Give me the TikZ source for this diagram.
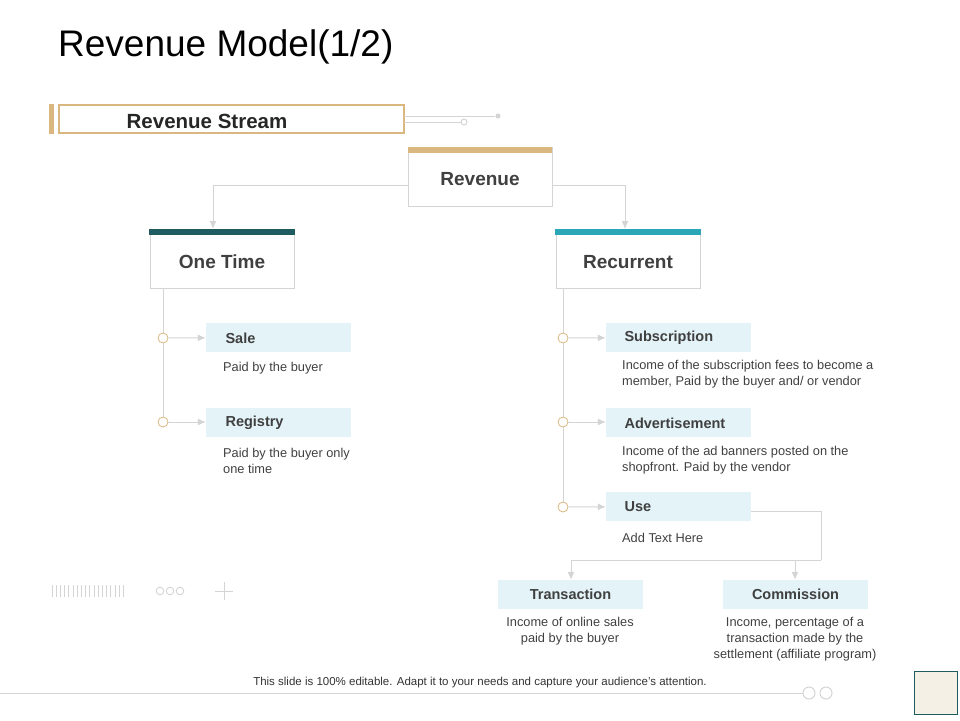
\documentclass[tikz,border=0pt]{standalone}
\usepackage{fontspec}
\setmainfont{Liberation Sans}
\usetikzlibrary{arrows.meta}
\definecolor{tan}{HTML}{D9B77E}
\definecolor{darkteal}{HTML}{1E5C60}
\definecolor{lightteal}{HTML}{2BA6B6}
\definecolor{paleblue}{HTML}{E3F3F7}
\definecolor{linegray}{HTML}{D4D4D4}
\definecolor{txt}{HTML}{404040}
\definecolor{cream}{HTML}{F5F0E6}
\tikzset{
  conn/.style={draw=linegray, line width=1pt},
  arr/.style={conn, -{Latex[length=8pt,width=7pt]}},
  headbox/.style={draw=linegray, fill=white, minimum width=144pt, minimum height=59pt, text depth=0pt, font=\fontsize{19}{22}\selectfont\bfseries, text=txt},
  itembox/.style={fill=paleblue, minimum width=145pt, minimum height=29pt, font=\fontsize{14.5}{17}\selectfont\bfseries, text=txt},
  itemtext/.style={anchor=west, font=\fontsize{14.5}{17}\selectfont\bfseries, text=txt},
  desc/.style={font=\fontsize{12.8}{16}\selectfont, text=txt, align=left, anchor=north west, inner sep=0pt},
  cdesc/.style={font=\fontsize{12.8}{16}\selectfont, text=txt, align=center, anchor=north, inner sep=0pt},
  knob/.style={circle, draw=tan, fill=white, line width=0.8pt, inner sep=0pt, minimum size=10pt}
}
\begin{document}
\begin{tikzpicture}[x=1pt, y=-1pt]

  \useasboundingbox (0,0) rectangle (960,720);

  % title
  \node[anchor=west, inner sep=0pt, font=\fontsize{37}{40}\selectfont, text=black] (title) at (58,47) {Revenue Model(1/2)};

  % revenue stream banner
  \fill[tan] (49,104) rectangle (54,134);
  \draw[tan, line width=1.5pt] (59,105) rectangle (404,133);
  \node[font=\fontsize{20.5}{23}\selectfont\bfseries, text=black!85] (stream) at (207,121) {Revenue Stream};
  \coordinate (s1) at (404,116);
  \coordinate (s2) at (404,122);
  \node[circle, fill=linegray, inner sep=0pt, minimum size=5pt] (dotA) at (498,116) {};
  \node[circle, draw=linegray, fill=white, line width=1pt, inner sep=0pt, minimum size=6pt] (dotB) at (464,122) {};
  \draw[conn] (s1) -- (dotA);
  \draw[conn] (s2) -- (dotB);

  % head boxes
  \node[headbox] (rev) at (480,176.5) {};
  \node[font=\fontsize{19}{22}\selectfont\bfseries, text=txt] at (480,179) {Revenue};
  \fill[tan] (408,147) rectangle (552,153);
  \node[headbox] (one) at (222,259) {};
  \node[font=\fontsize{19}{22}\selectfont\bfseries, text=txt] at (222,262) {One Time};
  \fill[darkteal] (149,229) rectangle (295,235);
  \node[headbox] (rec) at (628,259) {};
  \node[font=\fontsize{19}{22}\selectfont\bfseries, text=txt] at (628,262) {Recurrent};
  \fill[lightteal] (555,229) rectangle (701,235);

  \draw[arr] (rev.west |- 0,185) -| (213,229);
  \draw[arr] (rev.east |- 0,185) -| (625,229);

  % one time branch
  \node[knob] (k1) at (163,338) {};
  \node[knob] (k2) at (163,422) {};
  \draw[conn] (one.south -| 163,0) -- (k1) -- (k2);
  \node[itembox] (sale) at (278.5,337.5) {};
  \node[itemtext] at (222,338) {Sale};
  \node[itembox] (reg) at (278.5,422) {};
  \node[itemtext] at (222,423) {Registry};
  \draw[arr] (k1) -- (sale);
  \draw[arr] (k2) -- (reg);
  \node[desc] at (223,362) {Paid by the buyer};
  \node[desc] at (223,448) {Paid by the buyer only\\one time};

  % recurrent branch
  \node[knob] (k3) at (563,338) {};
  \node[knob] (k4) at (563,422) {};
  \node[knob] (k5) at (563,507) {};
  \draw[conn] (rec.south -| 563,0) -- (k3) -- (k4) -- (k5);
  \node[itembox] (sub) at (678.5,337.5) {};
  \node[itemtext] at (621,338) {Subscription};
  \node[itembox] (adv) at (678.5,422) {};
  \node[itemtext] at (621,423) {Advertisement};
  \node[itembox] (use) at (678.5,506.5) {};
  \node[itemtext] at (621,507) {Use};
  \draw[arr] (k3) -- (sub);
  \draw[arr] (k4) -- (adv);
  \draw[arr] (k5) -- (use);
  \node[desc] at (622,360) {Income of the subscription fees to become a\\member, Paid by the buyer and/ or vendor};
  \node[desc] at (622,446) {Income of the ad banners  posted on the\\shopfront.  Paid by the vendor};
  \node[desc] at (622,533) {Add Text Here};

  % use split
  \node[itembox] (trans) at (570.5,594.5) {Transaction};
  \node[itembox] (comm) at (795.5,594.5) {Commission};
  \coordinate (split) at (821,560);
  \draw[conn] (use.east |- 0,511) -| (split);
  \draw[arr] (split) -| (trans.north -| 571,0);
  \draw[arr] (795,560) -- (comm.north -| 795,0);
  \node[cdesc] at (570,617) {Income of online sales\\paid by the buyer};
  \node[cdesc] at (795,617) {Income, percentage of a\\transaction made by the\\settlement (affiliate program)};

  % decorations
  \foreach \i in {0,...,17}
    \draw[linegray, line width=0.7pt] (52+4.2*\i,585) -- (52+4.2*\i,597);
  \foreach \i in {0,1,2}
    \draw[linegray, line width=0.9pt] (160+10*\i,591) circle (3.8);
  \draw[linegray, line width=0.9pt] (215,591) -- (233,591) (224,582) -- (224,600);

  % footer
  \node[font=\fontsize{11.5}{13}\selectfont, text=black!80] (foot) at (480,683) {This slide is 100\% editable. Adapt it to your needs and capture your audience's attention.};
  \node[circle, draw=linegray, fill=white, line width=1pt, inner sep=0pt, minimum size=12pt] (c1) at (809,693) {};
  \node[circle, draw=linegray, fill=white, line width=1pt, inner sep=0pt, minimum size=12pt] (c2) at (826,693) {};
  \coordinate (fl) at (0,693);
  \draw[conn] (fl) -- (c1);
  \draw[darkteal, fill=cream, line width=1pt] (914,671) rectangle (957,714);

\end{tikzpicture}
\end{document}
